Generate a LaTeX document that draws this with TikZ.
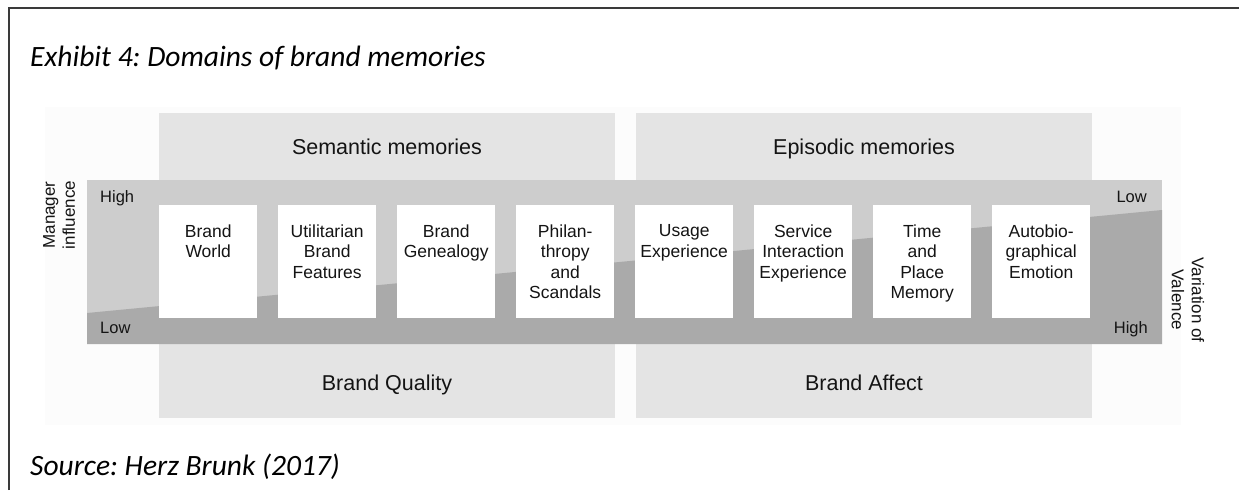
\documentclass[tikz,border=0pt]{standalone}
\usepackage{fontspec}
\setmainfont{Liberation Sans}
\newfontfamily\capfont{Carlito}
\frenchspacing
\definecolor{memgray}{HTML}{E4E4E4}
\definecolor{bandlight}{HTML}{CDCDCD}
\definecolor{banddark}{HTML}{AAAAAA}
\definecolor{inktext}{HTML}{141414}
\definecolor{framecol}{HTML}{3A3A3A}
\definecolor{haze}{HTML}{FCFCFC}
\begin{document}
\begin{tikzpicture}[x=1pt,y=-1pt,
  cardbox/.style={fill=white, draw=none, minimum width=98pt, minimum height=113pt,
    inner sep=0pt, anchor=north west},
  cardtext/.style={anchor=north, inner sep=0pt, align=center, text=inktext,
    font=\fontsize{17.5}{20.5}\selectfont},
  headtext/.style={inner sep=0pt, anchor=base, text=inktext, font=\fontsize{21.5}{25}\selectfont},
  axistext/.style={inner sep=0pt, text=inktext, font=\fontsize{16.5}{20}\selectfont},
  sidetext/.style={inner sep=0pt, align=center, text=inktext, font=\fontsize{17}{20}\selectfont},
  captext/.style={inner sep=0pt, anchor=base west, text=black,
    font=\capfont\itshape\fontsize{29.5}{34}\selectfont}]
\useasboundingbox (0,0) rectangle (1239,490);
\fill[white] (0,0) rectangle (1239,490);

% frame of the exhibit
\draw[framecol, line width=1.4pt] (9,490) -- (9,8) -- (1239,8);

% captions
\node[captext] (title) at (30,66) {Exhibit 4: Domains of brand memories};
\node[captext] (source) at (30,475) {Source: Herz Brunk (2017)};

% faint backdrop of the figure
\fill[haze] (45,107) rectangle (1181,425);

% memory domains
\fill[memgray] (159,113) rectangle (615,418);
\fill[memgray] (636,113) rectangle (1092,418);
\node[headtext] (sem) at (387,154) {Semantic memories};
\node[headtext] (epi) at (864,154) {Episodic memories};
\node[headtext] (qual) at (387,390) {Brand Quality};
\node[headtext] (aff) at (864,390) {Brand Affect};

% influence / valence band
\fill[bandlight] (87,180) rectangle (1162,344);
\fill[banddark] (87,313) -- (1162,210) -- (1162,344) -- (87,344) -- cycle;

% axis labels
\node[axistext, anchor=base west] (hl) at (100,202) {High};
\node[axistext, anchor=base west] (ll) at (100,333) {Low};
\node[axistext, anchor=base east] (lr) at (1147,202) {Low};
\node[axistext, anchor=base east] (hr) at (1148,333) {High};
\node[sidetext, rotate=90] (mgr) at (59,215) {Manager\\influence};
\node[sidetext, rotate=-90] (val) at (1188,300) {Variation of\\Valence};

% memory cards
\foreach \i/\t in {0/{Brand\\World},
                   1/{Utilitarian\\Brand\\Features},
                   2/{Brand\\Genealogy},
                   3/{Philan-\\thropy\\and\\Scandals},
                   4/{Usage\\Experience},
                   5/{Service\\Interaction\\Experience},
                   6/{Time\\and\\Place\\Memory},
                   7/{Autobio-\\graphical\\Emotion}} {
  \node[cardbox] (card\i) at (159+119*\i,205) {};
  \node[cardtext] (cardlbl\i) at ([yshift=-19.5pt]card\i.north) {\t};
}
\end{tikzpicture}
\end{document}
